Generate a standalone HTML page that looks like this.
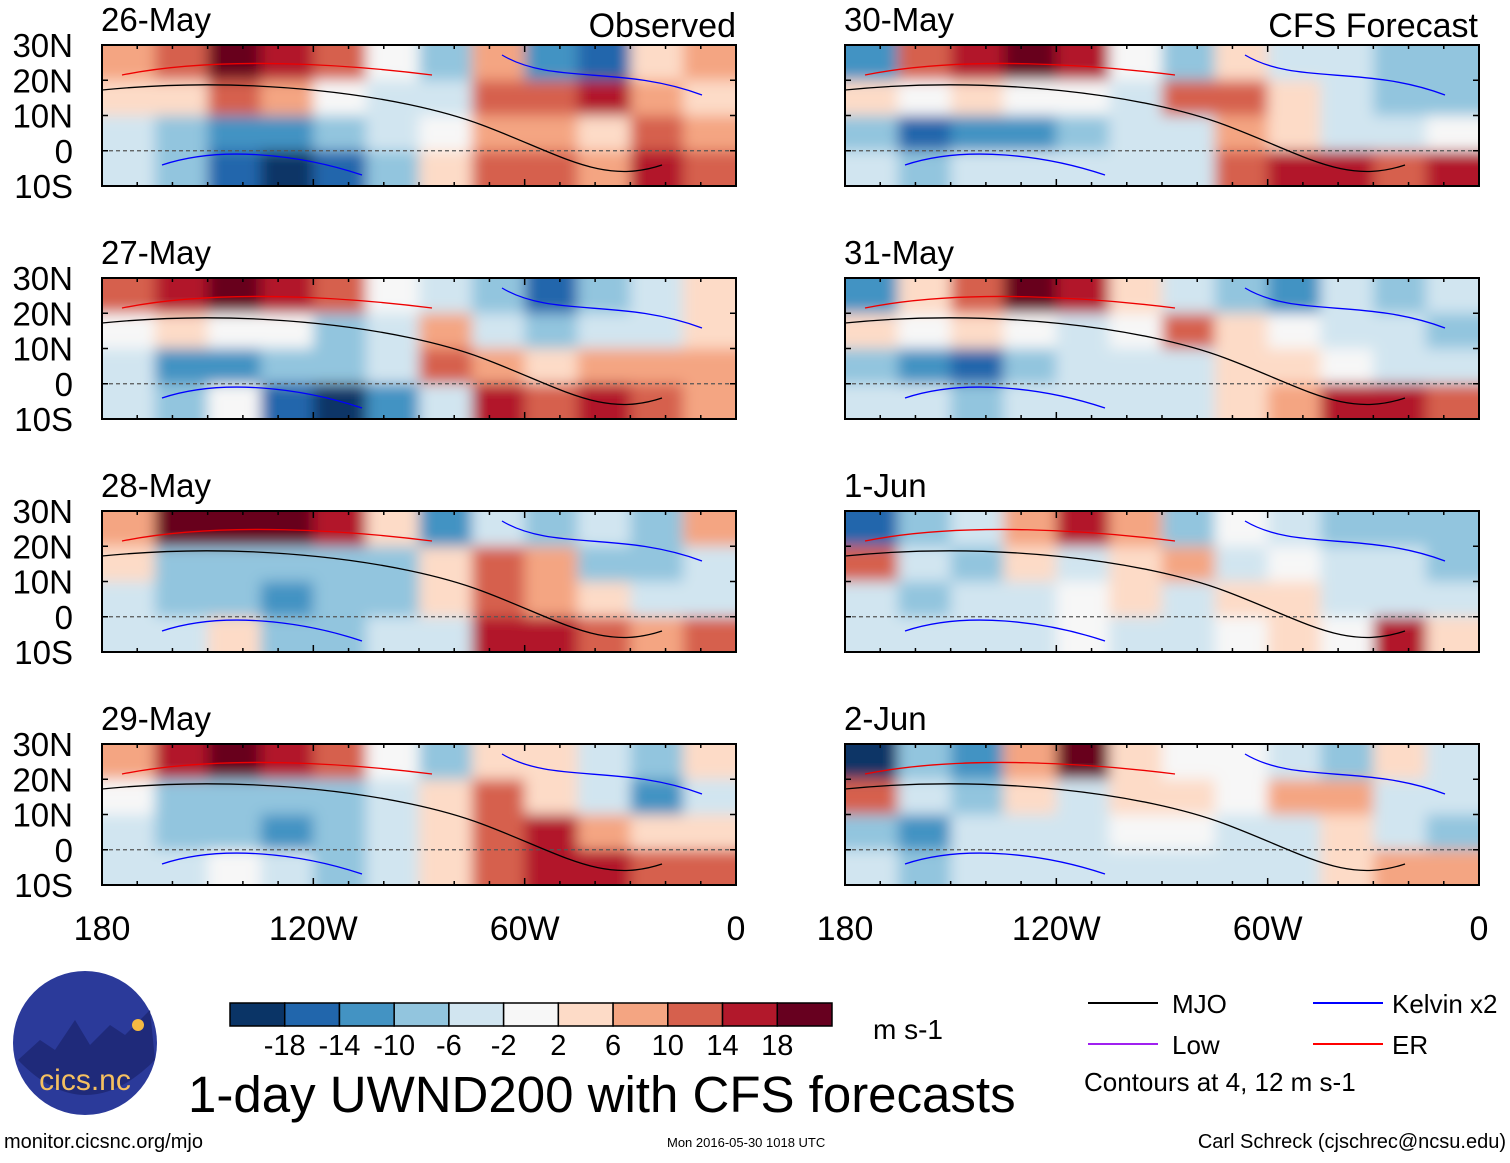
<!DOCTYPE html>
<html><head><meta charset="utf-8"><style>
body{margin:0;background:#fff;width:1510px;height:1158px;overflow:hidden;font-family:"Liberation Sans",sans-serif}
svg text{font-family:"Liberation Sans",sans-serif}
</style></head><body>
<svg id="fig" width="1510" height="1158" viewBox="0 0 1510 1158" xmlns="http://www.w3.org/2000/svg">
<defs><filter id="bl" x="-5%" y="-20%" width="110%" height="140%"><feGaussianBlur stdDeviation="7"/></filter></defs>
</svg>
<script>
const panelTitles=["26-May","27-May","28-May","29-May","30-May","31-May","1-Jun","2-Jun"];
const latLabels=["30N","20N","10N","0","10S"];
const lonLabels=["180","120W","60W","0"];
const cbLabels=["-18","-14","-10","-6","-2","2","6","10","14","18"];
const levels=[-18,-14,-10,-6,-2,2,6,10,14,18];
const colors=["#0a3466","#2166ac","#4393c3","#92c5de","#d1e5f0","#f7f7f7","#fddbc7","#f4a582","#d6604d","#b2182b","#67001f"];
const p0=[[8,14,19,18,12,2,-6,8,-10,-16,6,8],[4,6,12,10,2,-2,-4,12,14,18,8,6],[-4,-8,-12,-12,-8,-4,2,8,10,6,12,8],[-2,-8,-14,-19,-14,-6,4,12,14,10,16,14]];
const p1=[[12,18,19,18,12,2,-4,-6,-16,-6,-2,6],[2,4,2,0,-6,-2,10,-4,-8,-2,-2,4],[-4,-10,-12,-8,-8,-4,14,10,6,8,10,8],[-2,-6,0,-16,-18,-10,-2,16,14,18,12,10]];
const p2=[[10,19,22,19,18,4,-12,-4,-6,-2,-6,8],[4,-6,-8,-6,-6,-6,6,14,8,-6,-8,-4],[-4,-8,-8,-12,-8,-6,6,12,10,4,-2,-4],[-2,-4,4,-6,-8,-4,-2,18,16,12,8,12]];
const p3=[[8,16,19,18,12,2,-6,4,4,-4,-6,4],[2,-6,-8,-8,-6,-4,4,12,6,-2,-10,-4],[-4,-8,-8,-10,-8,-4,4,14,16,8,4,4],[-2,-4,2,-2,-6,-2,6,14,18,16,12,14]];
const p4=[[-12,12,18,19,16,2,-8,6,-4,-2,-6,-8],[4,2,4,0,0,-2,14,12,4,-4,-8,-8],[-6,-14,-12,-10,-8,-4,-2,10,4,-2,-4,2],[-2,-6,-2,-4,-4,-2,-2,12,18,16,14,16]];
const p5=[[-10,6,14,19,16,6,-4,-6,-10,-2,-8,-4],[4,2,4,0,-2,2,12,6,2,-2,-4,-8],[-6,-12,-14,-8,-4,-2,-2,4,6,2,-2,-4],[-2,-4,-6,-2,-2,-2,-2,4,10,16,18,12]];
const p6=[[-16,-8,-4,10,18,10,-6,2,-4,-8,-8,-6],[14,-4,-6,4,-2,6,8,-4,2,-2,-4,-6],[-4,-8,-4,-2,2,6,-2,4,6,-2,-4,-2],[-2,-2,-2,-4,2,-2,-2,2,4,2,16,6]];
const p7=[[-19,-8,-12,8,19,6,0,2,-4,-8,4,-2],[14,-4,-8,4,-2,6,6,2,8,10,-2,-4],[-6,-10,-4,-2,-2,2,2,-2,-2,4,-4,-8],[-4,-6,-4,-4,-2,-2,-2,-4,-2,6,8,10]];
const panels=[p0,p1,p2,p3,p4,p5,p6,p7];

const NS="http://www.w3.org/2000/svg";
const svg=document.getElementById("fig");
function mk(tag,attrs,parent){const e=document.createElementNS(NS,tag);for(const k in attrs)e.setAttribute(k,attrs[k]);(parent||svg).appendChild(e);return e;}
function colorOf(v){let i=0;while(i<levels.length&&v>levels[i])i++;return colors[i];}
const W=634,H=141,lefts=[102,845],tops=[45,278,511,744];
function xs(lon,L){return L+(lon+180)/180*W;}
function ys(lat,T){return T+(30-lat)/40*H;}

panels.forEach((data,pi)=>{
  const L=lefts[Math.floor(pi/4)],T=tops[pi%4];
  const g=mk("g",{});
  
  
  const cid="c"+pi;
  const cp=mk("clipPath",{id:cid},svg.querySelector("defs"));
  mk("rect",{x:L,y:T,width:W,height:H},cp);
  const cg=mk("g",{"clip-path":"url(#"+cid+")"},g);
  mk("rect",{x:L,y:T,width:W,height:H,fill:"#f7f7f7"},cg);
  const fg=mk("g",{filter:"url(#bl)"},cg);
  const nr=data.length,nc=data[0].length;
  for(let r=0;r<nr;r++)for(let c=0;c<nc;c++){
    const lon0=-180+c*15,lat0=30-r*10;
    let x=xs(lon0,L),y=ys(lat0,T),w=W/nc,h=H/nr;
    if(c===0){x-=30;w+=30;} if(c===nc-1)w+=30;
    if(r===0){y-=30;h+=30;} if(r===nr-1)h+=30;
    const cell=mk("rect",{x:x,y:y,width:w+1,height:h+1,fill:colorOf(data[r][c])},fg);
    
    
  }
  mk("line",{x1:L,x2:L+W,y1:ys(0,T),y2:ys(0,T),stroke:"#555","stroke-dasharray":"4,3","stroke-width":1.2},cg);
  mk("path",{d:`M${L} ${T+45} C${L+150} ${T+30} ${L+300} ${T+50} ${L+380} ${T+80} S${L+500} ${T+140} ${L+560} ${T+120}`,fill:"none",stroke:"#000","stroke-width":1.3},cg);
  mk("path",{d:`M${L+20} ${T+30} C${L+120} ${T+10} ${L+250} ${T+20} ${L+330} ${T+30}`,fill:"none",stroke:"#e00","stroke-width":1.3},cg);
  mk("path",{d:`M${L+60} ${T+120} C${L+120} ${T+100} ${L+200} ${T+110} ${L+260} ${T+130} M${L+400} ${T+10} C${L+450} ${T+40} ${L+520} ${T+20} ${L+600} ${T+50}`,fill:"none",stroke:"#00f","stroke-width":1.3},cg);
  const fr=mk("rect",{x:L,y:T,width:W,height:H,fill:"none",stroke:"#000","stroke-width":2},g);
  
  for(let lon=-180;lon<=0;lon+=10){const x=xs(lon,L),len=lon%60===0?7:4;
    mk("line",{x1:x,x2:x,y1:T,y2:T+len,stroke:"#000","stroke-width":1.5},g);
    mk("line",{x1:x,x2:x,y1:T+H,y2:T+H-len,stroke:"#000","stroke-width":1.5},g);}
  for(let lat=-10;lat<=30;lat+=10){const y=ys(lat,T);
    mk("line",{x1:L,x2:L+6,y1:y,y2:y,stroke:"#000","stroke-width":1.5},g);
    mk("line",{x1:L+W,x2:L+W-6,y1:y,y2:y,stroke:"#000","stroke-width":1.5},g);}
  const t=mk("text",{x:L-1,y:T-14,"font-size":33},g);t.textContent=panelTitles[pi];
  
  if(pi<4){latLabels.forEach((s,i)=>{const tt=mk("text",{x:73,y:ys(30-i*10,T)+12,"font-size":33,"text-anchor":"end"},g);tt.textContent=s;
    });}
  if(pi%4===3){lonLabels.forEach((s,i)=>{const tt=mk("text",{x:xs(-180+i*60,L),y:940,"font-size":34,"text-anchor":"middle"},g);tt.textContent=s;
    });}
});
function txt(s,a,name){const t=mk("text",a);t.textContent=s;return t;}
txt("Observed",{x:736,y:37,"font-size":34,"text-anchor":"end"},"observed-label");
txt("CFS Forecast",{x:1478,y:37,"font-size":34,"text-anchor":"end"},"cfs-forecast-label");
const cbg=mk("g",{});
const cw=602/colors.length;
colors.forEach((c,i)=>mk("rect",{x:230+i*cw,y:1003,width:cw,height:23,fill:c,stroke:"#000","stroke-width":1.5},cbg));
cbLabels.forEach((s,i)=>{const t=mk("text",{x:230+(i+1)*cw,y:1055,"font-size":29,"text-anchor":"middle"},cbg);t.textContent=s;
  });
txt("m s-1",{x:873,y:1039,"font-size":28},"units-label");
txt("1-day UWND200 with CFS forecasts",{x:188,y:1112,"font-size":51},"figure-title");
txt("monitor.cicsnc.org/mjo",{x:4,y:1148,"font-size":20},"source-url");
txt("Mon 2016-05-30 1018 UTC",{x:667,y:1147,"font-size":13},"timestamp");
txt("Carl Schreck (cjschrec@ncsu.edu)",{x:1506,y:1148,"font-size":20,"text-anchor":"end"},"author");
[["MJO","#000",1088,1172,1003],["Kelvin x2","#0000ff",1313,1392,1003],["Low","#a020f0",1088,1172,1044],["ER","#ff0000",1313,1392,1044]].forEach(l=>{
  const g=mk("g",{});
  mk("line",{x1:l[2],x2:l[2]+70,y1:l[4],y2:l[4],stroke:l[1],"stroke-width":2},g);
  const t=mk("text",{x:l[3],y:l[4]+10,"font-size":26},g);t.textContent=l[0];});
txt("Contours at 4, 12 m s-1",{x:1084,y:1091,"font-size":26},"contour-note");
const lg=mk("g",{});
mk("circle",{cx:85,cy:1043,r:72,fill:"#2b3a9a"},lg);
mk("path",{d:"M18 1060 L40 1040 L55 1050 L75 1020 L90 1045 L110 1025 L125 1035 L150 1010 L155 1060 Q85 1130 18 1060Z",fill:"#1f2a7a"},lg);
mk("circle",{cx:138,cy:1025,r:6,fill:"#f5b942"},lg);
const lt=mk("text",{x:85,y:1090,"font-size":30,fill:"#f5c060","text-anchor":"middle"},lg);lt.textContent="cics.nc";
</script>
</body></html>
